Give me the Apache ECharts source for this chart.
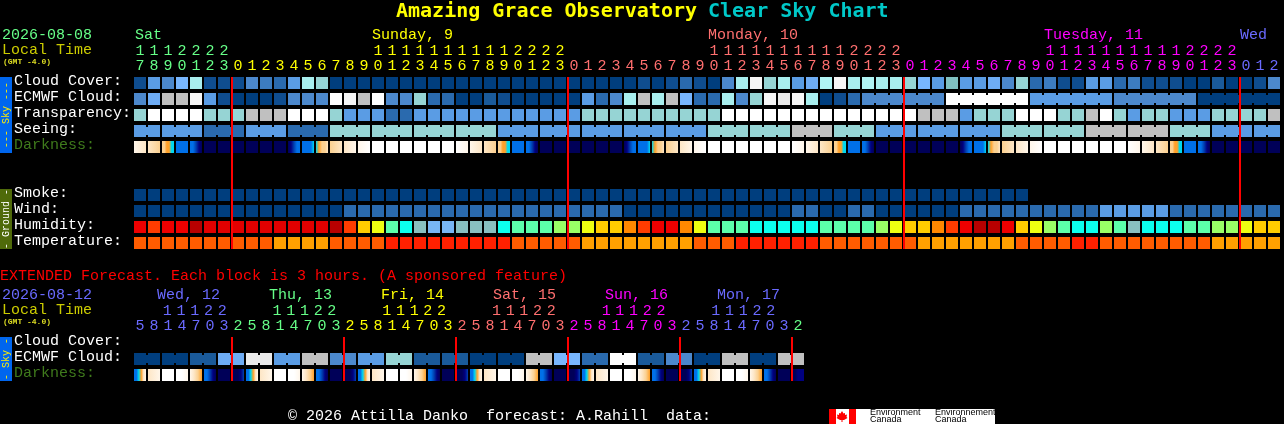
<!DOCTYPE html>
<html><head><meta charset="utf-8">
<style>html,body{margin:0;padding:0;background:#000}#c{width:1284px;height:424px}</style>
<script src="https://cdn.jsdelivr.net/npm/echarts@6/dist/echarts.min.js"></script>
</head><body><div id="c"></div>
<script>
// ---------- data ----------
const hourUnits = [7,8,9,0,1,2,3,0,1,2,3,4,5,6,7,8,9,0,1,2,3,4,5,6,7,8,9,0,1,2,3,0,1,2,3,4,5,6,7,8,9,0,1,2,3,4,5,6,7,8,9,0,1,2,3,0,1,2,3,4,5,6,7,8,9,0,1,2,3,4,5,6,7,8,9,0,1,2,3,0,1,2];
const hourTens  = [1,1,1,2,2,2,2,'','','','','','','','','','',1,1,1,1,1,1,1,1,1,1,2,2,2,2,'','','','','','','','','','',1,1,1,1,1,1,1,1,1,1,2,2,2,2,'','','','','','','','','','',1,1,1,1,1,1,1,1,1,1,2,2,2,2,'','',''];
const hourDay   = [0,0,0,0,0,0,0,1,1,1,1,1,1,1,1,1,1,1,1,1,1,1,1,1,1,1,1,1,1,1,1,2,2,2,2,2,2,2,2,2,2,2,2,2,2,2,2,2,2,2,2,2,2,2,2,3,3,3,3,3,3,3,3,3,3,3,3,3,3,3,3,3,3,3,3,3,3,3,3,4,4,4];
const rowNames  = ['Cloud Cover:','ECMWF Cloud:','Transparency:','Seeing:','Darkness:','','','Smoke:','Wind:','Humidity:','Temperature:'];
const midnightCols = [7,31,55,79];

const cloudCover   = [1,6,5,8,11,1,1,1,5,4,3,6,11,10,0,0,0,0,0,0,0,0,0,0,0,0,0,0,0,0,0,0,0,0,0,0,1,0,1,3,1,0,5,11,14,10,11,6,7,12,14,11,12,11,11,10,8,6,9,6,6,7,5,10,3,4,1,1,6,6,3,4,1,1,1,0,0,2,0,0,1,5];
const ecmwfCloud   = [5,7,16,16,14,6,1,0,0,0,1,5,5,5,13,14,16,13,5,5,10,3,3,0,0,2,1,0,0,0,0,0,6,3,5,11,16,11,16,8,3,3,11,5,10,14,15,14,11,0,1,3,5,5,5,5,5,5,13,13,13,13,13,13,6,6,6,6,6,6,5,5,5,5,5,5,0,0,0,0,0,0];
const ecmwfBlocks  = [1,1,1,1,1,1,1,1,1,1,1,1,1,1,1,1,1,1,1,1,1,1,1,1,1,1,1,1,1,1,1,1,1,1,1,1,1,1,1,1,1,1,1,1,1,1,1,1,1,1,1,1,6,6,6,6,6];
const transparency = [10,13,13,13,13,10,10,10,16,16,16,13,13,13,10,6,6,6,3,3,6,6,6,6,6,6,6,6,6,6,6,6,10,10,10,10,10,10,10,10,10,10,13,13,13,13,13,13,13,13,13,13,13,13,13,13,16,16,16,6,10,10,10,13,13,13,10,10,16,13,10,6,10,10,6,6,6,10,10,10,10,16];
const seeingValues = [6,6,3,6,3,10,10,10,10,6,6,6,6,6,10,10,16,10,6,6,6,10,10,16,16,10,6,6];
const seeingBlocks = [2,3,3,3,3,3,3,3,3,3,3,3,3,3,3,3,3,3,3,3,3,3,3,3,3,3,3,2];
const darkness = [[1,2],[2,3],[3,3,4,4,5,5],[6],[6,6,7,8,9],[9],[9],[9],[9],[9],[9],[9,8,7,6,6],[6,6,6,6,5],[5,4,3,3,2],[3,2],[2,1],[1,0],[0],[0],[0],[0],[0],[0],[0,1],[1,2],[2,3],[3,3,4,4,5,5],[6],[6,6,7,8,9],[9],[9],[9],[9],[9],[9],[9,8,7,6,6],[6,6,6,6,5],[5,4,3,3,2],[3,2],[2,1],[1,0],[0],[0],[0],[0],[0],[0],[0,1],[1,2],[2,3],[3,3,4,4,5,5],[6],[6,6,7,8,9],[9],[9],[9],[9],[9],[9],[9,8,7,6,6],[6,6,6,6,5],[5,4,3,3,2],[3,2],[2,1],[1,0],[0],[0],[0],[0],[0],[0],[0,1],[1,2],[2,3],[3,3,4,4,5,5],[6],[6,6,7,8,9],[9],[9],[9],[9],[9]];
const smoke    = [0,0,0,0,0,0,0,0,0,0,0,0,0,0,0,0,0,0,0,0,0,0,0,0,0,0,0,0,0,0,0,0,0,0,0,0,0,0,0,0,0,0,0,0,0,0,0,0,0,0,0,0,0,0,0,0,0,0,0,0,0,0,0,0];
const wind     = [0,0,0,0,0,0,0,0,0,0,0,0,0,0,0,3,3,3,3,3,3,3,3,3,3,3,3,3,3,3,3,3,3,3,3,0,0,0,0,0,0,0,0,0,0,0,0,3,3,0,0,3,3,0,0,0,0,0,0,3,3,3,3,3,3,3,3,3,3,6,6,6,6,6,3,3,3,3,3,3,3,3];
const humidity = [2,3,2,2,0,1,1,1,1,1,1,1,1,1,0,3,5,6,8,9,10,11,11,10,10,10,9,8,8,8,7,7,6,5,5,4,3,2,2,4,6,8,8,8,9,9,9,9,9,8,8,8,8,7,6,5,5,4,3,2,0,0,2,5,6,7,8,9,9,7,8,10,9,9,9,8,8,7,7,6,5,5];
const temperature = [1,1,1,1,1,1,1,1,1,1,2,2,2,2,1,1,1,1,0,0,0,0,0,0,0,0,0,1,1,1,1,1,2,2,2,2,2,2,2,2,1,1,1,0,0,0,0,0,0,1,1,1,1,1,1,1,2,2,2,2,2,2,2,1,1,1,1,0,0,1,1,1,1,1,1,1,1,2,2,2,2,2];

const extUnits = [5,8,1,4,7,0,3,2,5,8,1,4,7,0,3,2,5,8,1,4,7,0,3,2,5,8,1,4,7,0,3,2,5,8,1,4,7,0,3,2,5,8,1,4,7,0,3,2];
const extTens  = ['','',1,1,1,2,2,'','','',1,1,1,2,2,'','','',1,1,1,2,2,'','','',1,1,1,2,2,'','','',1,1,1,2,2,'','','',1,1,1,2,2,'',''];
const extDay   = [0,0,0,0,0,0,0,1,1,1,1,1,1,1,1,2,2,2,2,2,2,2,2,3,3,3,3,3,3,3,3,4,4,4,4,4,4,4,4,5,5,5,5,5,5,5,5,6];
const extRowNames = ['Cloud Cover:','ECMWF Cloud:','Darkness:'];
const extMidnightCols = [7,15,23,31,39,47];
const extEcmwf = [0,0,2,7,15,6,16,5,6,10,2,2,0,0,16,8,3,13,2,5,0,16,0,16];
const extDarkness = [[6,6,5,4,2,1],[2,1],[0],[0,0,1],[1,2,3,4],[6,6,7,8,9],[9],[9,9,9,8,7],[6,6,5,4,2,1],[2,1],[0],[0,0,1],[1,2,3,4],[6,6,7,8,9],[9],[9,9,9,8,7],[6,6,5,4,2,1],[2,1],[0],[0,0,1],[1,2,3,4],[6,6,7,8,9],[9],[9,9,9,8,7],[6,6,5,4,2,1],[2,1],[0],[0,0,1],[1,2,3,4],[6,6,7,8,9],[9],[9,9,9,8,7],[6,6,5,4,2,1],[2,1],[0],[0,0,1],[1,2,3,4],[6,6,7,8,9],[9],[9,9,9,8,7],[6,6,5,4,2,1],[2,1],[0],[0,0,1],[1,2,3,4],[6,6,7,8,9],[9],[9,9,8,8,8]];

const mainDayNames = ['Sat','Sunday, 9','Monday, 10','Tuesday, 11','Wed'];
const mainDayCols  = [0,17,41,65,79];
const extDayNames  = ['Wed, 12','Thu, 13','Fri, 14','Sat, 15','Sun, 16','Mon, 17'];

// ---------- styles ----------
const cloudColors = ['#003e7e','#0f4d8f','#1a5a9a','#2a6aae','#3c7cc0','#4c88cc','#5a9ce4','#6eacf4','#78b6fe','#80c0c0','#96d4d4','#a8eeee','#b0f4f4','#ffffff','#f6f6f6','#eaeaea','#c0c0c0'];
const humColors = ['#b80000','#e20000','#ee0000','#ff3c00','#ff8800','#ffcc00','#eeff11','#99ff66','#5cffaa','#0cffee','#88c0c0','#78b6f4'];
const tempColors = ['#ff2000','#ff5c00','#ffa000'];
const darkColors = ['#ffffff','#fff6ea','#fde6c6','#fbd090','#ffa028','#00d8f0','#0070e8','#0040b0','#000080','#000058'];
const dayColors = ['#66ff88','#ffff00','#ff6f6f','#ff00ff','#6a6aff'];
const extDayColors = ['#6a6aff','#66ff88','#ffff00','#ff6f6f','#ff00ff','#6a6aff','#66ff88'];
const FONT = '"Liberation Mono", monospace';
const FS = 15, CELL = 12, NECK = 8;

function gradient(levels){
  if(levels.length===1) return darkColors[levels[0]];
  return new echarts.graphic.LinearGradient(0,0,1,0,levels.map((l,i)=>({offset:i/(levels.length-1),color:darkColors[l]})));
}
function joinsFromBlocks(blocks){
  const j=[]; blocks.forEach(n=>{for(let k=0;k<n;k++) j.push(k<n-1);}); return j;
}
function expand(blocks,vals){
  const o=[]; blocks.forEach((n,b)=>{for(let k=0;k<n;k++) o.push(vals[b]);}); return o;
}
function cellSeries(grid,row,values,fill,joins){
  return {type:'custom',coordinateSystem:'cartesian2d',xAxisIndex:grid*2,yAxisIndex:grid,silent:true,clip:false,animation:false,
    data:values.map((v,i)=>[i,row,i]),
    renderItem:function(params,api){
      const i=api.value(2), p=api.coord([api.value(0),api.value(1)]);
      const x=Math.round(p[0]-CELL/2), y=Math.round(p[1]-CELL/2), style={fill:fill(values[i])};
      const children=[{type:'rect',shape:{x:x,y:y,width:CELL,height:CELL},style:style}];
      if(joins&&joins[i]) children.push({type:'rect',shape:{x:x+CELL,y:y+(CELL-NECK)/2,width:2,height:NECK},style:style});
      return {type:'group',children:children};
    }};
}
function lineSeries(grid,cols,firstRow,lastRow){
  return {type:'custom',coordinateSystem:'cartesian2d',xAxisIndex:grid*2,yAxisIndex:grid,silent:true,clip:false,animation:false,z:100,
    data:cols.map(c=>[c,firstRow,lastRow]),
    renderItem:function(params,api){
      const a=api.coord([api.value(0),api.value(1)]), b=api.coord([api.value(0),api.value(2)]);
      const x=Math.round(a[0]-7), y0=Math.round(a[1]-CELL/2), y1=Math.round(b[1]+CELL/2);
      return {type:'rect',shape:{x:x,y:y0,width:2,height:y1-y0},style:{fill:'#ff0000'}};
    }};
}
function xAxes(grid,units,tens,dayIdx,colors){
  const base={type:'category',gridIndex:grid,position:'top',axisLine:{show:false},axisTick:{show:false},splitLine:{show:false}};
  const lab=(m)=>({interval:0,margin:m,fontFamily:FONT,fontSize:FS,hideOverlap:false,color:(v,i)=>colors[dayIdx[i]]});
  return [
    Object.assign({},base,{data:units.map(String),axisLabel:lab(1)}),
    Object.assign({},base,{offset:15,data:tens.map(String),axisLabel:lab(1)})
  ];
}
function yAxis(grid,names){
  const rich=c=>({color:c,fontFamily:FONT,fontSize:FS,padding:[0,0,3,0]});
  return {type:'category',gridIndex:grid,inverse:true,data:names,axisLine:{show:false},axisTick:{show:false},splitLine:{show:false},
    axisLabel:{interval:0,align:'left',margin:119,hideOverlap:false,
      formatter:v=>v===''?'':(v==='Darkness:'?'{g|'+v+'}':'{w|'+v+'}'),
      rich:{w:rich('#ffffff'),g:rich('#3f7a1c')}}};
}
function txt(x,y,text,fill,size,weight){
  return {type:'text',x:x,y:y,silent:true,style:{text:text,fill:fill,font:(weight?weight+' ':'')+size+'px '+FONT,textVerticalAlign:'middle'}};
}
function sideBar(y,h,color,text,fill){
  return [
    {type:'rect',shape:{x:0,y:y,width:12,height:h},style:{fill:color},silent:true},
    {type:'text',x:6,y:y+h/2,rotation:Math.PI/2,silent:true,style:{text:text,fill:fill,font:'10px '+FONT,textAlign:'center',textVerticalAlign:'middle'}}
  ];
}

const chart=echarts.init(document.getElementById('c'),null,{renderer:'canvas',width:1284,height:424});
const d=v=>gradient(v), cc=v=>cloudColors[v];
chart.setOption({
  backgroundColor:'#000',animation:false,
  grid:[
    {left:133,top:75,width:82*14,height:11*16,containLabel:false},
    {left:133,top:335,width:48*14,height:3*16,containLabel:false}
  ],
  xAxis:[...xAxes(0,hourUnits,hourTens,hourDay,dayColors),...xAxes(1,extUnits,extTens,extDay,extDayColors)],
  yAxis:[yAxis(0,rowNames),yAxis(1,extRowNames)],
  series:[
    cellSeries(0,0,cloudCover,cc),
    cellSeries(0,1,ecmwfCloud,cc,joinsFromBlocks(ecmwfBlocks)),
    cellSeries(0,2,transparency,cc),
    cellSeries(0,3,expand(seeingBlocks,seeingValues),cc,joinsFromBlocks(seeingBlocks)),
    cellSeries(0,4,darkness,d),
    cellSeries(0,7,smoke,cc),
    cellSeries(0,8,wind,cc),
    cellSeries(0,9,humidity,v=>humColors[v]),
    cellSeries(0,10,temperature,v=>tempColors[v]),
    cellSeries(1,1,extEcmwf.flatMap(v=>[v,v]),cc,extEcmwf.flatMap(()=>[true,false])),
    cellSeries(1,2,extDarkness,d),
    lineSeries(0,midnightCols,0,10),
    lineSeries(1,extMidnightCols,0,2)
  ],
  graphic:{elements:[
    {type:'text',x:396,y:12,silent:true,style:{text:'Amazing Grace Observatory',fill:'#ffff00',font:'bold 20px "DejaVu Sans Mono", monospace',textVerticalAlign:'middle'}},
    {type:'text',x:708,y:12,silent:true,style:{text:'Clear Sky Chart',fill:'#00c8c8',font:'bold 20px "DejaVu Sans Mono", monospace',textVerticalAlign:'middle'}},
    txt(2,35,'2026-08-08','#66ff88',FS),
    txt(2,50,'Local Time','#cccc00',FS),
    txt(3,62,'(GMT -4.0)','#dddd22',8,'bold'),
    ...mainDayNames.map((n,i)=>txt(134+14*mainDayCols[i]+(i===0?1:0),35,n,dayColors[i],FS)),
    txt(0,276,'EXTENDED Forecast. Each block is 3 hours. (A sponsored feature)','#ff0000',FS),
    txt(2,295,'2026-08-12','#6a6aff',FS),
    txt(2,310,'Local Time','#cccc00',FS),
    txt(3,322,'(GMT -4.0)','#dddd22',8,'bold'),
    ...extDayNames.map((n,i)=>txt(157+112*i,295,n,extDayColors[i],FS)),
    ...sideBar(77,76,'#0066ee','--- Sky ---','#ffee00'),
    ...sideBar(189,60,'#4f6a0a','- Ground -','#ffffff'),
    ...sideBar(337,44,'#0066ee','- Sky -','#ffee00'),
    txt(288,416,'\u00a9 2026 Attilla Danko  forecast: A.Rahill  data:','#ffffff',FS),
    {type:'rect',shape:{x:829,y:409,width:166,height:15},style:{fill:'#ffffff'},silent:true},
    {type:'rect',shape:{x:829,y:409,width:7,height:15},style:{fill:'#ff0000'},silent:true},
    {type:'rect',shape:{x:849,y:409,width:7,height:15},style:{fill:'#ff0000'},silent:true},
    {type:'polygon',silent:true,shape:{points:[[842,411],[843.5,413.5],[845,413],[845,415],[847,414.5],[846.5,417],[847.5,418],[844,420],[842.5,420],[842.5,422],[841.5,422],[841.5,420],[840,420],[836.5,418],[837.5,417],[837,414.5],[839,415],[839,413],[840.5,413.5]]},style:{fill:'#ff0000'}},
    {type:'text',x:870,y:413,silent:true,style:{text:'Environment',fill:'#000',font:'9px "Liberation Sans", sans-serif',textVerticalAlign:'middle'}},
    {type:'text',x:870,y:420,silent:true,style:{text:'Canada',fill:'#000',font:'9px "Liberation Sans", sans-serif',textVerticalAlign:'middle'}},
    {type:'text',x:935,y:413,silent:true,style:{text:'Environnement',fill:'#000',font:'9px "Liberation Sans", sans-serif',textVerticalAlign:'middle'}},
    {type:'text',x:935,y:420,silent:true,style:{text:'Canada',fill:'#000',font:'9px "Liberation Sans", sans-serif',textVerticalAlign:'middle'}}
  ]}
});
</script></body></html>
